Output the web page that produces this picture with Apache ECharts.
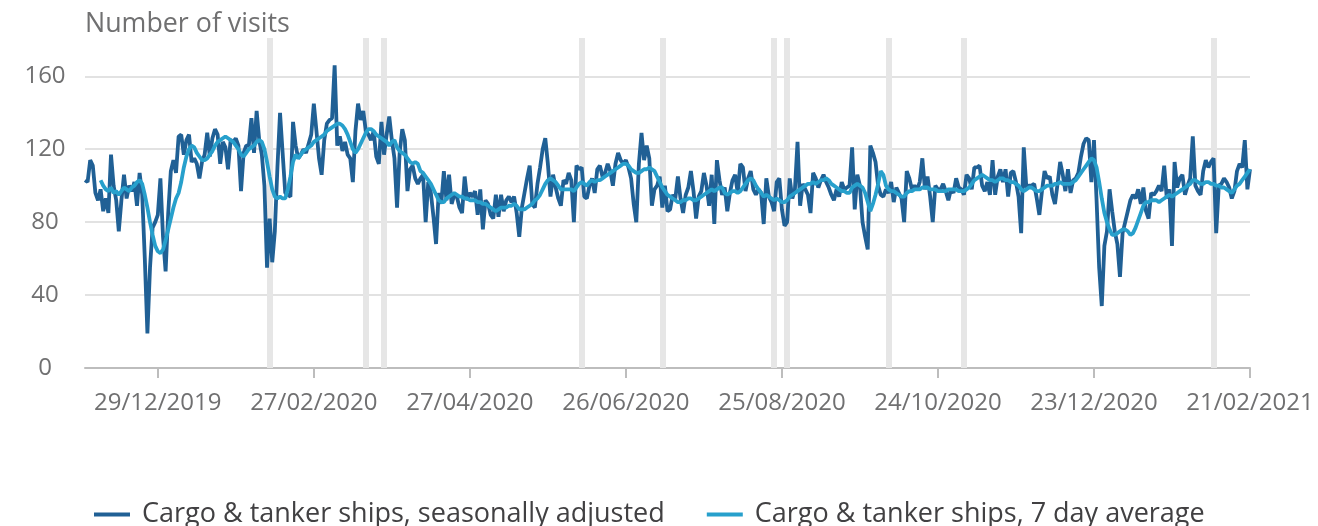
<!DOCTYPE html>
<html>
<head>
<meta charset="utf-8">
<title>Cargo & tanker ships</title>
<script src="https://cdn.jsdelivr.net/npm/echarts@6/dist/echarts.min.js"></script>
<style>
  html, body { margin: 0; padding: 0; background: #fff; }
  #chart { width: 1318px; height: 526px; }
</style>
</head>
<body>
<div id="chart"></div>
<script>
// daily series start on 01/12/2019 and end on 21/02/2021
const startDate = [2019, 11, 1]
const tickLabels = ['29/12/2019', '27/02/2020', '27/04/2020', '26/06/2020', '25/08/2020', '24/10/2020', '23/12/2020', '21/02/2021']
const eventDates = ['10/02/2020', '18/03/2020', '25/03/2020', '09/06/2020', '10/07/2020', '22/08/2020', '27/08/2020', '05/10/2020', '03/11/2020', '07/02/2021']
const seriesNames = ['Cargo & tanker ships, seasonally adjusted', 'Cargo & tanker ships, 7 day average']

const seasonallyAdjusted = [
  103, 102, 114, 111, 96, 92, 98, 86, 93, 85,
  117, 100, 92, 75, 92, 106, 93, 100, 97, 102,
  89, 107, 95, 60, 19, 55, 77, 80, 84, 104,
  72, 53, 85, 108, 114, 107, 127, 128, 117, 125,
  128, 113, 115, 112, 104, 113, 117, 129, 116, 126,
  131, 128, 112, 124, 121, 109, 125, 124, 126, 122,
  97, 118, 122, 122, 137, 118, 141, 125, 117, 100,
  55, 82, 58, 75, 110, 140, 118, 96, 95, 94,
  135, 122, 115, 117, 120, 118, 123, 128, 145, 130,
  115, 106, 125, 134, 136, 137, 166, 122, 127, 119,
  124, 117, 115, 102, 130, 145, 136, 141, 130, 128,
  125, 130, 116, 112, 135, 117, 128, 138, 125, 115,
  88, 118, 131, 125, 97, 109, 111, 104, 101, 104,
  106, 80, 102, 96, 83, 68, 96, 90, 108, 92,
  106, 90, 95, 94, 88, 85, 105, 92, 96, 94,
  97, 84, 98, 76, 92, 90, 84, 82, 95, 83,
  95, 86, 92, 94, 91, 94, 85, 72, 88, 96,
  104, 111, 90, 88, 101, 110, 120, 126, 112, 94,
  106, 99, 93, 89, 103, 101, 107, 103, 80, 111,
  109, 110, 94, 93, 100, 104, 96, 109, 111, 105,
  107, 112, 108, 100, 112, 118, 114, 112, 114, 110,
  104, 90, 80, 112, 129, 114, 122, 115, 89, 98,
  100, 105, 88, 100, 86, 87, 95, 93, 105, 93,
  85, 95, 99, 108, 97, 82, 94, 97, 107, 100,
  89, 106, 79, 114, 103, 95, 99, 86, 96, 103,
  106, 96, 112, 110, 97, 104, 108, 98, 95, 98,
  96, 79, 104, 94, 91, 86, 102, 104, 87, 78,
  80, 104, 93, 98, 124, 89, 101, 98, 95, 85,
  107, 104, 99, 103, 106, 102, 99, 95, 92, 98,
  94, 102, 98, 99, 100, 121, 87, 106, 100, 80,
  72, 65, 122, 118, 113, 100, 95, 94, 98, 96,
  102, 91, 99, 96, 93, 80, 108, 104, 98, 100,
  98, 102, 115, 98, 105, 94, 80, 100, 98, 98,
  101, 97, 92, 98, 96, 104, 99, 98, 95, 106,
  104, 98, 110, 110, 111, 100, 97, 102, 95, 114,
  95, 105, 109, 102, 109, 94, 107, 108, 102, 94,
  74, 121, 99, 100, 100, 101, 93, 84, 97, 108,
  104, 105, 95, 90, 101, 113, 106, 97, 109, 96,
  103, 104, 107, 116, 123, 126, 125, 102, 125, 92,
  55, 34, 67, 75, 98, 86, 75, 68, 50, 74,
  80, 86, 92, 95, 93, 98, 90, 99, 86, 82,
  96, 95, 97, 100, 97, 111, 93, 98, 67, 113,
  99, 104, 106, 95, 100, 104, 127, 100, 97, 95,
  108, 114, 110, 113, 115, 74, 100, 101, 104, 102,
  99, 93, 97, 108, 112, 110, 125, 98, 109
]

const sevenDayAverage = [
  null, null, null, null, null, null, 103, 100, 98, 97,
  99, 96, 97, 95, 97, 99, 98, 97, 99, 100,
  102, 103, 101, 95, 88, 80, 73, 67, 64, 63,
  65, 70, 76, 82, 88, 93, 96, 102, 110, 116,
  120, 122, 121, 118, 116, 114, 114, 115, 117, 119,
  122, 124, 125, 126, 127, 126, 125, 124, 122, 120,
  117, 116, 118, 120, 121, 122, 124, 125, 124, 120,
  113, 105, 98, 94, 93, 94, 93, 93, 98, 105,
  113, 117, 115, 117, 119, 120, 121, 122, 124, 125,
  126, 127, 128, 130, 131, 132, 133, 134, 134, 133,
  131, 128, 124, 120, 118, 120, 123, 126, 129, 131,
  131, 130, 128, 127, 126, 125, 124, 122, 124, 125,
  121, 119, 118, 117, 115, 113, 112, 113, 112, 108,
  107, 105, 103, 101, 98, 95, 92, 91, 91, 93,
  94, 95, 96, 95, 94, 94, 93, 93, 92, 92,
  92, 91, 91, 90, 90, 89, 88, 87, 86, 87,
  88, 88, 88, 89, 89, 90, 89, 87, 87, 87,
  88, 89, 90, 92, 93, 95, 98, 101, 103, 104,
  103, 102, 100, 98, 98, 98, 98, 98, 97, 99,
  101, 102, 101, 100, 102, 103, 102, 103, 103, 104,
  105, 106, 107, 108, 109, 110, 111, 112, 112, 111,
  109, 108, 107, 107, 108, 109, 109, 110, 109, 108,
  105, 102, 99, 97, 95, 94, 93, 92, 91, 91,
  92, 92, 93, 93, 92, 92, 93, 94, 95, 96,
  97, 98, 97, 98, 99, 99, 96, 95, 96, 97,
  97, 96, 97, 99, 101, 103, 104, 103, 100, 98,
  96, 94, 95, 94, 93, 92, 93, 92, 91, 91,
  92, 94, 95, 96, 97, 98, 99, 100, 101, 101,
  102, 101, 102, 103, 103, 104, 103, 101, 100, 99,
  98, 97, 97, 96, 96, 99, 100, 101, 100, 99,
  96, 91, 86, 90, 95, 101, 108, 106, 100, 98,
  97, 97, 96, 95, 94, 94, 96, 97, 97, 98,
  98, 98, 99, 99, 99, 98, 98, 98, 97, 97,
  97, 97, 98, 98, 98, 98, 97, 97, 97, 98,
  99, 101, 103, 104, 105, 106, 105, 104, 103, 103,
  102, 103, 104, 104, 103, 103, 102, 102, 101, 100,
  98, 97, 98, 99, 99, 98, 97, 97, 98, 99,
  100, 100, 100, 101, 101, 102, 101, 101, 101, 101,
  102, 103, 105, 107, 109, 111, 113, 115, 114, 110,
  102, 93, 85, 80, 76, 73, 73, 74, 75, 76,
  76, 75, 73, 74, 77, 81, 85, 89, 91, 91,
  92, 92, 92, 91, 92, 93, 94, 95, 94, 95,
  96, 97, 98, 99, 100, 101, 103, 103, 102, 101,
  101, 102, 102, 101, 101, 100, 100, 99, 99, 98,
  97, 96, 98, 100, 101, 103, 105, 107, 109
]

function pad(n) {
  return n < 10 ? '0' + n : '' + n
}

// category labels dd/mm/yyyy, one per day
const dates = []
const first = Date.UTC(startDate[0], startDate[1], startDate[2])
for (let i = 0; i < seasonallyAdjusted.length; i++) {
  const d = new Date(first + i * 86400000)
  dates.push(pad(d.getUTCDate()) + '/' + pad(d.getUTCMonth() + 1) + '/' + d.getUTCFullYear())
}

const font = 'Open Sans'
const textGrey = '#707071'
const showTick = function (index, value) {
  return tickLabels.indexOf(value) !== -1
}

const chart = echarts.init(document.getElementById('chart'))
chart.setOption({
  animation: false,
  textStyle: { fontFamily: font },
  title: {
    text: 'Number of visits',
    left: 80,
    top: 6,
    textStyle: { fontFamily: font, fontSize: 26.8, fontWeight: 'normal', color: textGrey }
  },
  grid: { left: 85, right: 68, top: 38, bottom: 158 },
  legend: {
    left: 89,
    top: 496,
    icon: 'rect',
    itemWidth: 36,
    itemHeight: 4,
    itemGap: 42,
    textStyle: { fontFamily: font, fontSize: 27, color: '#414042', padding: [0, 0, 0, 7] },
    data: seriesNames
  },
  xAxis: {
    type: 'category',
    data: dates,
    boundaryGap: false,
    axisLine: { lineStyle: { color: '#bdbdbd', width: 2 } },
    axisTick: { interval: showTick, length: 10, lineStyle: { color: '#bdbdbd', width: 2 } },
    axisLabel: { interval: showTick, fontFamily: font, fontSize: 24, color: textGrey, margin: 23 },
    splitLine: { show: false }
  },
  yAxis: {
    type: 'value',
    min: 0,
    max: 181,
    interval: 40,
    axisLine: { show: false },
    axisTick: { show: false },
    axisLabel: { fontFamily: font, fontSize: 24, color: textGrey, align: 'center', margin: 40, showMaxLabel: false },
    splitLine: { showMaxLine: false, lineStyle: { color: '#e2e2e2', width: 2 } }
  },
  series: [
    {
      // grey event lines, kept behind the data
      name: 'events',
      type: 'line',
      data: [],
      z: 1,
      markLine: {
        silent: true,
        z: 1,
        symbol: 'none',
        label: { show: false },
        lineStyle: { color: '#e6e6e6', width: 6, type: 'solid' },
        data: eventDates.map(d => ({ xAxis: d }))
      }
    },
    {
      name: seriesNames[0],
      type: 'line',
      data: seasonallyAdjusted,
      showSymbol: false,
      z: 3,
      color: '#206095',
      lineStyle: { width: 3.8, color: '#206095' }
    },
    {
      name: seriesNames[1],
      type: 'line',
      data: sevenDayAverage,
      showSymbol: false,
      z: 4,
      color: '#27a0cc',
      lineStyle: { width: 3.8, color: '#27a0cc' }
    }
  ]
})
</script>
</body>
</html>
